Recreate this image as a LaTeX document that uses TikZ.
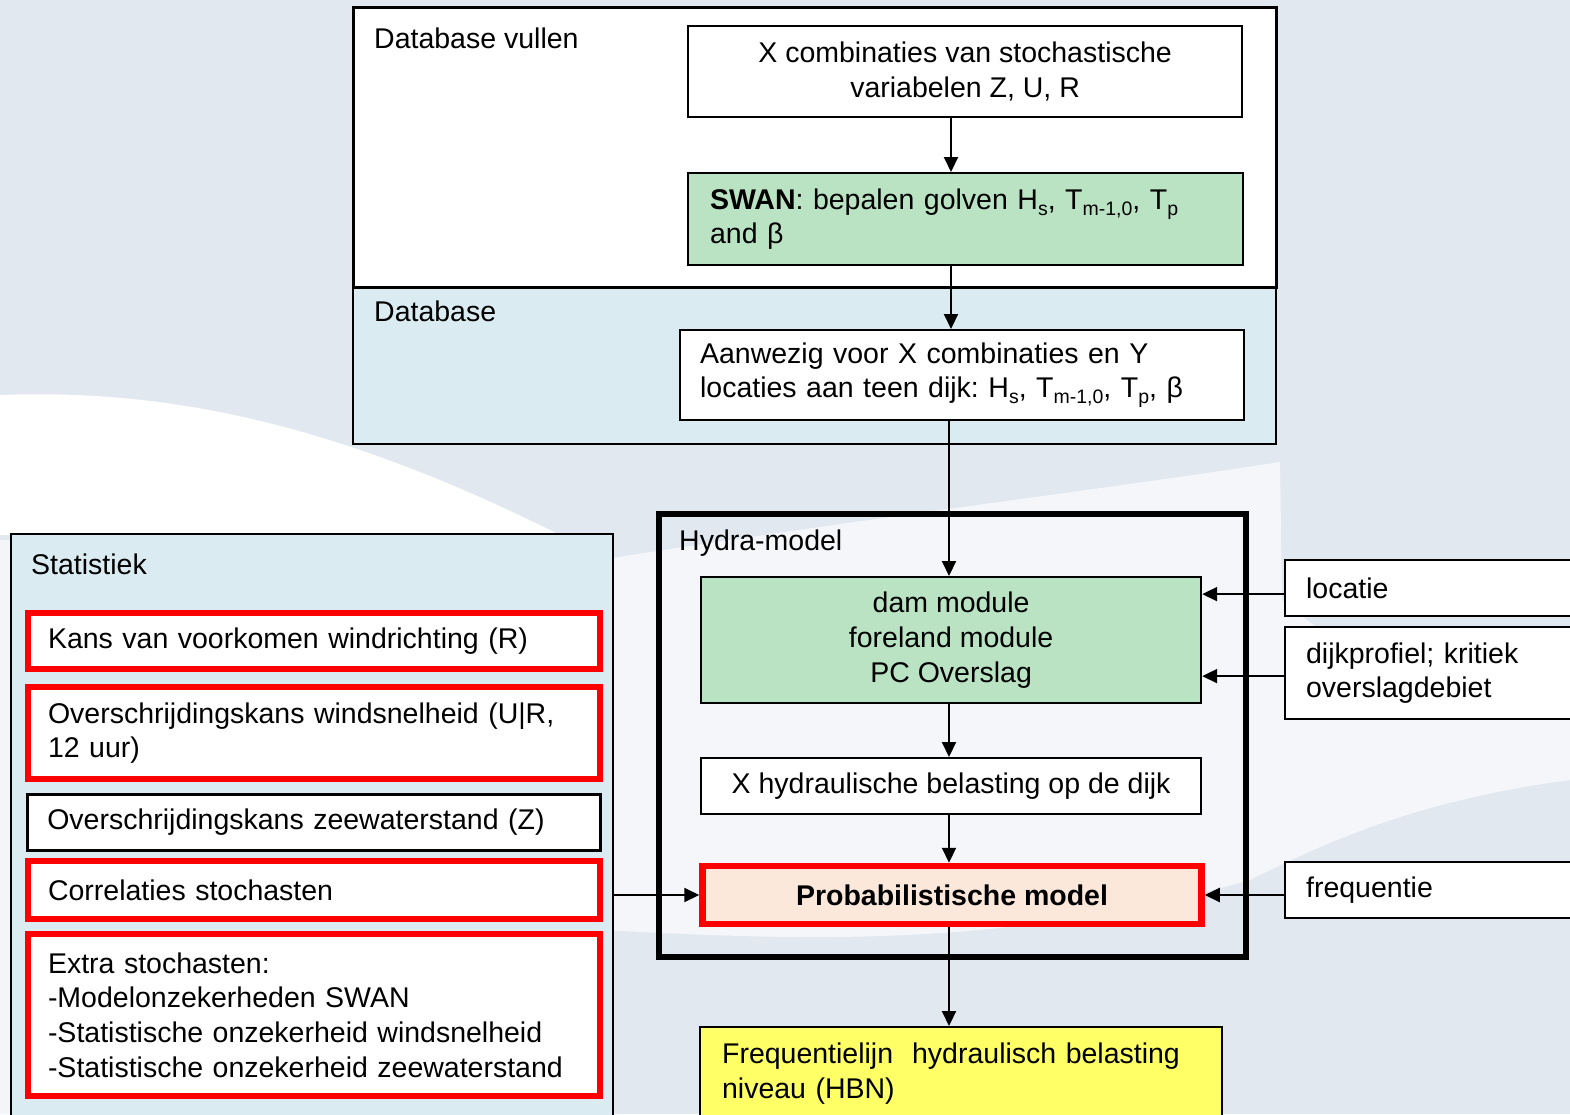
\documentclass[tikz,border=0pt]{standalone}
\usepackage{fontspec}
\setmainfont{Liberation Sans}
\usetikzlibrary{arrows.meta}
\definecolor{bgc}{HTML}{E1E8F0}
\definecolor{dbblue}{HTML}{DAECF2}
\definecolor{swgreen}{HTML}{B9E3C3}
\definecolor{peach}{HTML}{FCE8DA}
\definecolor{hbnyellow}{HTML}{FFFF66}
\definecolor{redb}{HTML}{FF0000}
\newcommand\diafs{\fontsize{28.5}{34.7}\selectfont\frenchspacing}
\newcommand\sbs[1]{\raisebox{-6pt}{\fontsize{19.5}{19.5}\selectfont #1}}
\begin{document}
\begin{tikzpicture}[x=1pt,y=-1pt,
  every node/.style={font=\diafs, inner sep=0pt},
  box/.style={draw=black, line width=2.2pt, rectangle, anchor=north west},
  redbox/.style={box, draw=redb, line width=6pt, fill=white, minimum width=572pt,
                 text width=532pt, inner xsep=20pt, align=left},
  rbox/.style={box, fill=white, minimum width=320pt, text width=279pt, inner xsep=21pt, align=left},
  lbl/.style={anchor=west},
  arr/.style={line width=2pt, -{Triangle[length=15pt,width=14pt]}}]
\useasboundingbox (0,0) rectangle (1570,1114);
% background
\fill[bgc] (0,0) rectangle (1570,1114);
\fill[white] (0,395) .. controls (180,388) and (350,430) .. (560,535) -- (0,535) -- cycle;
\fill[white, opacity=0.65] (600,560) .. controls (850,520) and (1100,490) .. (1280,462)
  -- (1282,600) .. controls (1400,700) and (1500,712) .. (1570,718)
  -- (1570,780) .. controls (1420,800) and (1330,840) .. (1250,880)
  .. controls (1000,950) and (800,940) .. (600,930) -- cycle;
\fill[white, opacity=0.6] (0,540) rectangle (10,1114);

% top container
\node[box, fill=white, line width=2.5pt, minimum width=923pt, minimum height=280pt] (dbv) at (352,6) {};
\node[box, fill=dbblue, line width=2pt, minimum width=923pt, minimum height=156pt] (db) at (352,287) {};
\node[lbl] (dbvt) at (374,38) {Database vullen};
\node[lbl] (dbt) at (374,311) {Database};

\node[box, fill=white, minimum width=554pt, minimum height=91pt, align=center] (xcomb) at (687,25)
  {X combinaties van stochastische\\variabelen Z, U, R};
\node[box, fill=swgreen, minimum width=555pt, minimum height=92pt, text width=511pt, inner xsep=22pt, align=left] (swan) at (687,172)
  {\textbf{SWAN}: bepalen golven H\sbs{s}, T\sbs{m-1,0}, T\sbs{p}\\and β};
\node[box, fill=white, minimum width=564pt, minimum height=90pt, text width=524pt, inner xsep=20pt, align=left] (aanw) at (679,329)
  {Aanwezig voor X combinaties en Y\\locaties aan teen dijk: H\sbs{s}, T\sbs{m-1,0}, T\sbs{p}, β};

% Hydra model
\node[box, line width=6pt, minimum width=587pt, minimum height=443pt] (hydra) at (656,511) {};
\node[lbl] (hydt) at (679,543) {Hydra-model};
\node[box, fill=swgreen, minimum width=500pt, minimum height=126pt, align=center] (dam) at (700,576)
  {dam module\\foreland module\\PC Overslag};
\node[box, fill=white, minimum width=500pt, minimum height=56pt] (xhyd) at (700,757)
  {X hydraulische belasting op de dijk};
\node[box, draw=redb, line width=6.5pt, fill=peach, minimum width=499pt, minimum height=58pt,
      font=\diafs\bfseries] (prob) at (699.25,862.75) {Probabilistische model};
\node[box, fill=hbnyellow, minimum width=522pt, minimum height=93pt, text width=478pt, inner xsep=22pt, align=left] (freq) at (699,1026)
  {Frequentielijn\ \ hydraulisch belasting\\niveau (HBN)};

% Statistiek
\node[box, fill=dbblue, line width=2pt, minimum width=602pt, minimum height=600pt] (stat) at (10,533) {};
\node[lbl] (statt) at (31,564) {Statistiek};
\node[redbox, minimum height=56pt] (kans) at (25,610) {Kans van voorkomen windrichting (R)};
\node[redbox, minimum height=92pt] (wind) at (25,684) {Overschrijdingskans windsnelheid (U|R,\\12 uur)};
\node[box, fill=white, line width=2.5pt, minimum width=573pt, minimum height=56pt, text width=533pt, inner xsep=20pt, align=left] (zee) at (26,793)
  {Overschrijdingskans zeewaterstand (Z)};
\node[redbox, minimum height=58pt] (corr) at (25,858) {Correlaties stochasten};
\node[redbox, minimum height=162pt] (extra) at (25,931)
  {Extra stochasten:\\-Modelonzekerheden SWAN\\-Statistische onzekerheid windsnelheid\\-Statistische onzekerheid zeewaterstand};

% right inputs
\node[rbox, minimum height=56pt] (loc) at (1284,559) {locatie};
\node[rbox, minimum height=92pt] (dijk) at (1284,626) {dijkprofiel; kritiek\\overslagdebiet};
\node[rbox, minimum height=56pt] (freqr) at (1284,861) {frequentie};

% connectors
\coordinate (axu) at (951,0);
\coordinate (axl) at (949,0);
\draw[arr] (xcomb.south -| axu) -- (swan.north -| axu);
\draw[arr] (swan.south -| axu) -- (aanw.north -| axu);
\draw[arr] (aanw.south -| axl) -- (dam.north -| axl);
\draw[arr] (dam.south -| axl) -- (xhyd.north -| axl);
\draw[arr] (xhyd.south -| axl) -- (prob.north -| axl);
\draw[arr] (prob.south -| axl) -- (freq.north -| axl);
\draw[arr] (stat.east |- prob.west) -- (prob.west);
\draw[arr] ([yshift=-6pt]loc.west) -- ([yshift=-6pt]loc.west -| dam.east);
\draw[arr] ([yshift=-3pt]dijk.west) -- ([yshift=-3pt]dijk.west -| dam.east);
\draw[arr] (freqr.west |- prob.east) -- (prob.east);
\end{tikzpicture}
\end{document}
